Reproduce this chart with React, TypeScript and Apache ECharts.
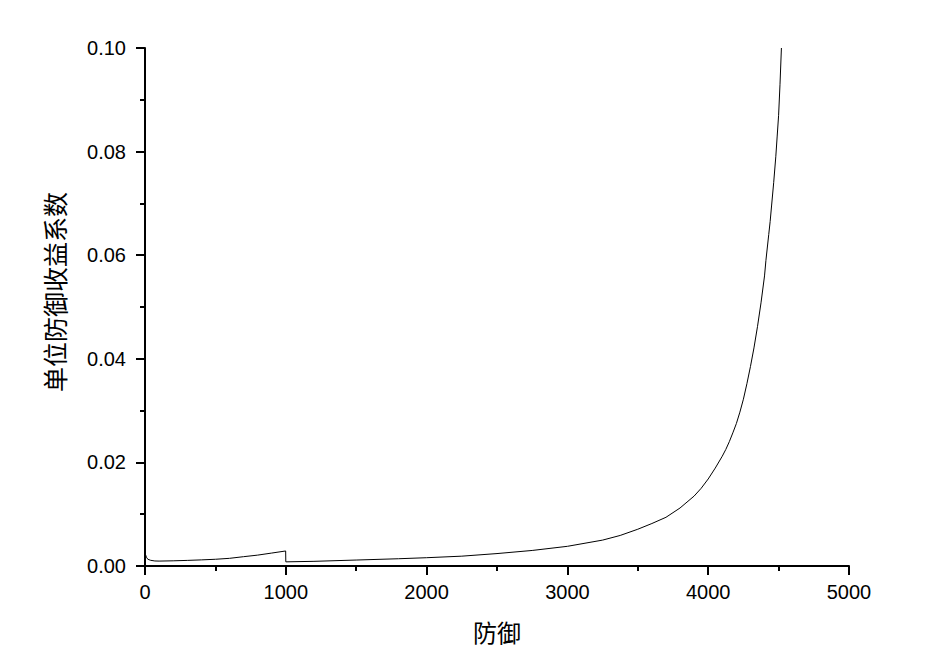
import React, { useEffect, useRef } from "react";
import * as echarts from "echarts";

const defense = [
  0, 10, 20, 40, 70, 100, 200, 300, 400, 500, 600, 700, 800, 900, 999,
  1000, 1200, 1500, 1800, 2000, 2250, 2500, 2750, 3000, 3125, 3250, 3375,
  3500, 3600, 3700, 3800, 3900, 3950, 4000, 4050, 4100, 4125, 4150, 4175,
  4200, 4225, 4250, 4275, 4300, 4325, 4350, 4375, 4400, 4410, 4430, 4440,
  4450, 4465, 4480, 4490, 4500, 4510, 4520,
];
const coefficient = [
  0.0025, 0.0017, 0.0013, 0.0011, 0.00097, 0.00095, 0.001, 0.00108, 0.00118,
  0.0013, 0.00148, 0.0018, 0.0021, 0.0025, 0.0029,
  0.0008, 0.0009, 0.00115, 0.0014, 0.0016, 0.0019, 0.0024, 0.003, 0.0038,
  0.0044, 0.005, 0.0059, 0.0071, 0.0082, 0.0094,
  0.0112, 0.0135, 0.015, 0.0168, 0.0189, 0.0212, 0.0225, 0.024, 0.0257,
  0.0275, 0.0297, 0.0322, 0.0352, 0.0385, 0.0421, 0.0462, 0.0508, 0.056,
  0.059, 0.064, 0.0665, 0.0695, 0.074, 0.079, 0.083, 0.087, 0.093, 0.1,
];
const xTicks = [0, 1000, 2000, 3000, 4000, 5000];
const yTicks = [0, 0.02, 0.04, 0.06, 0.08, 0.1];

export default function App() {
  const ref = useRef<HTMLDivElement>(null);
  useEffect(() => {
    if (!ref.current) return;
    const chart = echarts.init(ref.current, undefined, { renderer: "svg" });
    const labelFont = "'Liberation Sans', Arial, sans-serif";
    const cjkFont = "'Noto Sans CJK SC', sans-serif";
    chart.setOption({
      animation: false,
      backgroundColor: "#ffffff",
      grid: { left: 145, right: 77, top: 48, bottom: 104, containLabel: false },
      xAxis: {
        type: "value",
        min: xTicks[0],
        max: xTicks[xTicks.length - 1],
        interval: 1000,
        name: "防御",
        nameLocation: "middle",
        nameGap: 53,
        nameTextStyle: { fontFamily: cjkFont, fontSize: 24, color: "#000" },
        axisLine: { show: true, onZero: false, lineStyle: { color: "#000", width: 2 } },
        axisTick: { show: true, inside: false, length: 9, lineStyle: { color: "#000", width: 2 } },
        minorTick: { show: true, splitNumber: 2, length: 5, lineStyle: { color: "#000", width: 2 } },
        splitLine: { show: false },
        axisLabel: {
          fontFamily: labelFont,
          fontSize: 20,
          color: "#000",
          margin: 16,
          formatter: (v: number) => String(v),
        },
      },
      yAxis: {
        type: "value",
        min: yTicks[0],
        max: yTicks[yTicks.length - 1],
        interval: 0.02,
        name: "单位防御收益系数",
        nameLocation: "middle",
        nameGap: 79,
        nameTextStyle: {
          fontFamily: cjkFont,
          fontSize: 25,
          color: "#000",
          padding: [0, 0, 0, 30],
        },
        axisLine: { show: true, lineStyle: { color: "#000", width: 2 } },
        axisTick: { show: true, inside: false, length: 9, lineStyle: { color: "#000", width: 2 } },
        minorTick: { show: true, splitNumber: 2, length: 5, lineStyle: { color: "#000", width: 2 } },
        splitLine: { show: false },
        axisLabel: {
          fontFamily: labelFont,
          fontSize: 20,
          color: "#000",
          margin: 19,
          formatter: (v: number) => v.toFixed(2),
        },
      },
      series: [
        {
          type: "line",
          data: defense.map((d, i) => [d, coefficient[i]]),
          showSymbol: false,
          symbol: "none",
          smooth: false,
          lineStyle: { color: "#000", width: 1 },
        },
      ],
    });
    return () => chart.dispose();
  }, []);
  return (
    <div
      ref={ref}
      style={{ position: "fixed", left: 0, top: 0, width: 926, height: 670, background: "#fff" }}
    />
  );
}
